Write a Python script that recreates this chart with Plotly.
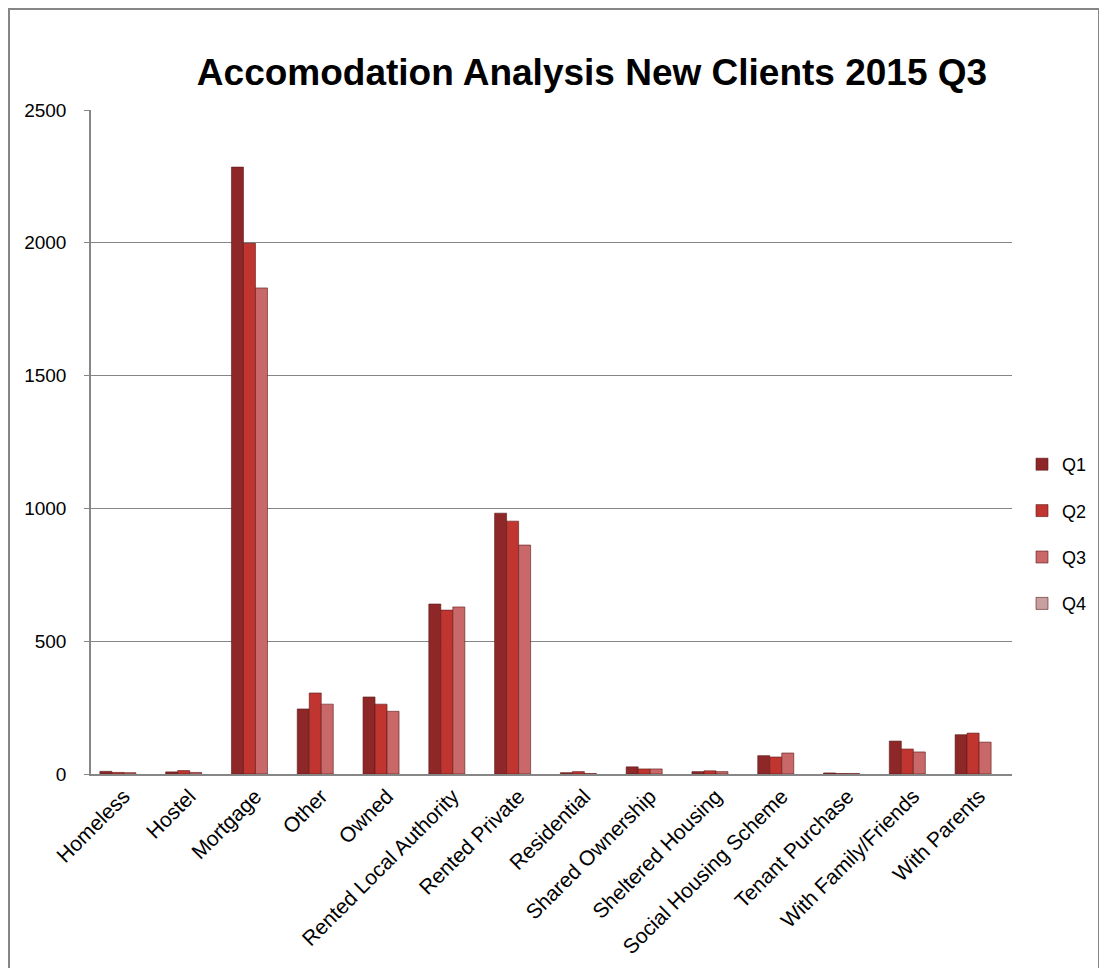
import plotly.graph_objects as go

categories = ["Homeless", "Hostel", "Mortgage", "Other", "Owned", "Rented Local Authority",
              "Rented Private", "Residential", "Shared Ownership", "Sheltered Housing",
              "Social Housing Scheme", "Tenant Purchase", "With Family/Friends", "With Parents"]
q1 = [10, 8, 2285, 245, 290, 640, 982, 5, 27, 9, 69, 4, 124, 148]
q2 = [6, 13, 1998, 305, 263, 617, 952, 9, 19, 12, 64, 2, 94, 154]
q3 = [5, 6, 1830, 263, 236, 629, 862, 2, 19, 9, 79, 2, 83, 120]
q4 = [None] * 14

series = [("Q1", q1, "#8E2828"), ("Q2", q2, "#C0352F"), ("Q3", q3, "#C96868"), ("Q4", q4, "#C9A0A0")]

fig = go.Figure()
for name, vals, col in series:
    fig.add_trace(go.Bar(x=categories, y=vals, name=name, legendgroup=name,
                         marker=dict(color=col, line=dict(color="#5A1818", width=0.6))))

OFF = 8  # body margin of the page
W, H = 1107 - 2 * OFF, 976 - 2 * OFF
# target plot area in page pixels: x 91..1012, y 110..774
L = 91 - OFF
T = 110 - OFF
R = W - (1012 - OFF)
B = H - (774 - OFF)
pw = W - L - R
ph = H - T - B

def px(xp):
    return (xp - 91) / pw

def py(yp):
    return (774 - yp) / ph

fig.update_layout(
    width=W, height=H,
    margin=dict(l=L, r=R, t=T, b=B, autoexpand=False),
    paper_bgcolor="white", plot_bgcolor="white",
    font=dict(family="Liberation Sans", size=16, color="black"),
    title=dict(text="<b>Accomodation Analysis New Clients 2015 Q3</b>",
               x=(592 - OFF) / W, xanchor="center", y=1 - (72 - OFF) / H, yanchor="middle",
               font=dict(size=37, family="Liberation Sans", color="black")),
    barmode="group", bargap=0.27, bargroupgap=0,
    legend=dict(x=px(1022), xanchor="left", y=py(534), yanchor="middle",
                tracegroupgap=20, font=dict(size=18), itemwidth=30),
    xaxis=dict(tickangle=-45, showline=True, linecolor="#868686", linewidth=1.5,
               showgrid=False, tickfont=dict(size=21)),
    yaxis=dict(range=[0, 2500], dtick=500, showgrid=True, gridcolor="#868686",
               gridwidth=1, showline=True, linecolor="#868686", linewidth=1.5,
               ticks="outside", ticklen=5, tickcolor="#868686", tickfont=dict(size=19),
               ticklabelstandoff=14, zeroline=False),
    shapes=[dict(type="rect", xref="paper", yref="paper",
                 x0=px(9), x1=px(1099), y0=py(990), y1=py(9),
                 line=dict(color="#868686", width=2), fillcolor="rgba(0,0,0,0)", layer="below")],
)

fig.write_html("out.html")
